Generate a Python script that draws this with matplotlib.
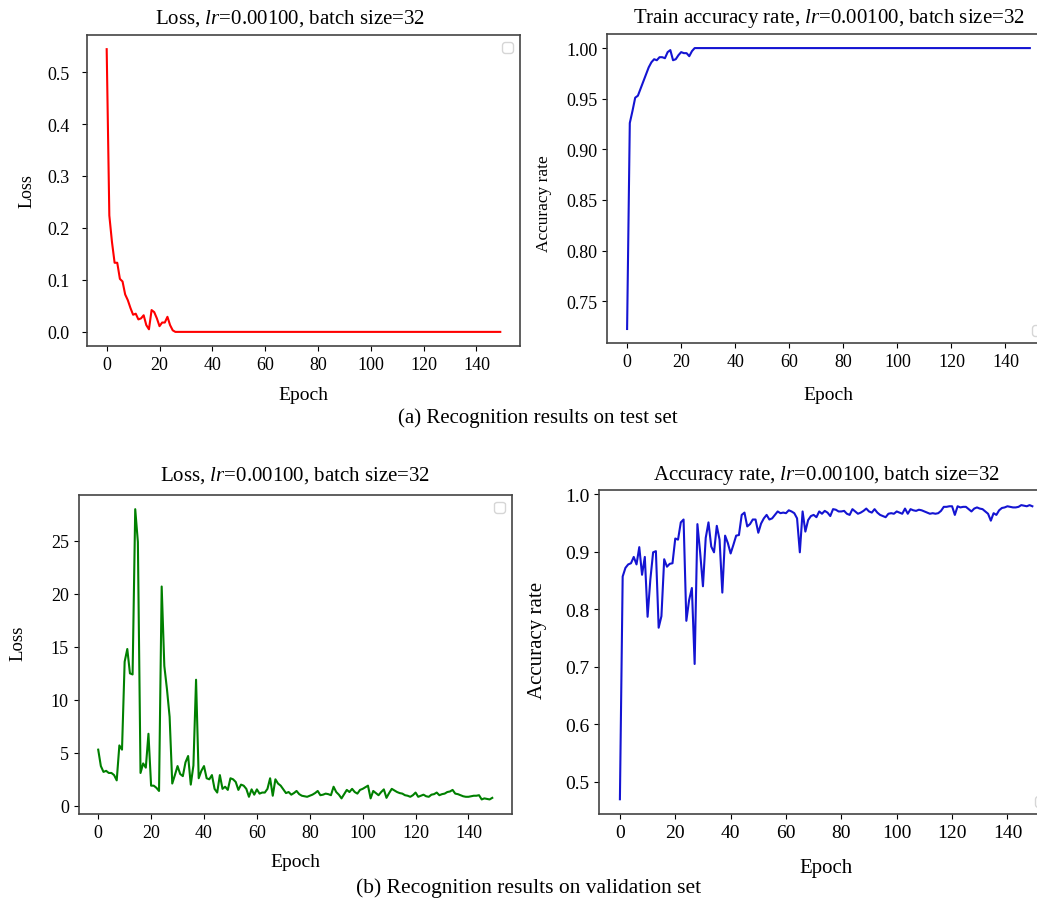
import numpy as np
import matplotlib
matplotlib.use('Agg')
import matplotlib.pyplot as plt

plt.rcParams['font.family'] = ['Liberation Serif', 'DejaVu Serif']
plt.rcParams['mathtext.fontset'] = 'custom'
plt.rcParams['mathtext.rm'] = 'Liberation Serif'
plt.rcParams['mathtext.it'] = 'Liberation Serif:italic'

epochs = np.arange(150)

# (a) test set
test_loss = [0.544, 0.224, 0.173, 0.133, 0.133, 0.102, 0.097, 0.072, 0.061, 0.046,
             0.033, 0.035, 0.024, 0.026, 0.032, 0.013, 0.005, 0.042, 0.038, 0.026,
             0.011, 0.018, 0.018, 0.029, 0.013, 0.003] + [0.0] * 124
test_acc = [0.7226, 0.926, 0.938, 0.951, 0.953, 0.960, 0.967, 0.974, 0.981, 0.986,
            0.989, 0.988, 0.991, 0.991, 0.990, 0.996, 0.998, 0.988, 0.989, 0.993,
            0.996, 0.995, 0.995, 0.992, 0.997] + [1.0] * 125

# (b) validation set
val_loss = [5.3, 3.75, 3.2, 3.3, 3.1, 3.1, 2.9, 2.4, 5.7, 5.3,
            13.6, 14.8, 12.5, 12.4, 28.0, 24.9, 3.1, 4.0, 3.6, 6.8,
            1.9, 1.9, 1.7, 1.4, 20.7, 13.2, 11.0, 8.4, 2.1, 2.9,
            3.75, 3.0, 2.8, 4.1, 4.7, 2.0, 3.8, 11.9, 2.6, 3.3,
            3.75, 2.6, 2.5, 2.9, 1.6, 1.25, 2.9, 1.6, 1.8, 1.5,
            2.6, 2.5, 2.25, 1.5, 2.0, 1.9, 1.6, 0.85, 1.55, 1.05,
            1.55, 1.15, 1.25, 1.25, 1.6, 2.6, 0.95, 2.5, 2.1, 1.9,
            1.55, 1.2, 1.3, 1.05, 1.2, 1.4, 1.1, 0.95, 0.9, 0.85,
            0.95, 1.05, 1.2, 1.4, 1.0, 1.05, 1.15, 1.1, 1.0, 1.8,
            1.3, 1.05, 0.7, 1.1, 1.5, 1.3, 1.6, 1.3, 1.15, 1.5,
            1.6, 1.75, 1.9, 0.7, 1.4, 1.2, 1.0, 1.3, 1.55, 0.75,
            1.2, 1.6, 1.45, 1.3, 1.2, 1.15, 1.0, 0.95, 0.85, 1.0,
            1.25, 0.85, 0.95, 1.05, 0.9, 0.85, 1.05, 1.1, 1.25, 1.0,
            1.1, 1.15, 1.3, 1.35, 1.5, 1.15, 1.1, 1.0, 0.9, 0.85,
            0.85, 0.9, 0.95, 0.95, 1.0, 0.6, 0.7, 0.65, 0.6, 0.75]
val_acc = [0.470, 0.857, 0.872, 0.878, 0.880, 0.891, 0.878, 0.908, 0.860, 0.891,
           0.787, 0.852, 0.899, 0.901, 0.768, 0.788, 0.887, 0.874, 0.879, 0.880,
           0.923, 0.921, 0.951, 0.956, 0.780, 0.816, 0.837, 0.705, 0.948, 0.898,
           0.840, 0.924, 0.951, 0.909, 0.899, 0.945, 0.921, 0.829, 0.928, 0.915,
           0.897, 0.912, 0.928, 0.929, 0.964, 0.968, 0.944, 0.948, 0.956, 0.956,
           0.933, 0.949, 0.958, 0.964, 0.956, 0.958, 0.964, 0.970, 0.967, 0.968,
           0.967, 0.972, 0.970, 0.967, 0.958, 0.899, 0.970, 0.935, 0.955, 0.962,
           0.964, 0.960, 0.970, 0.966, 0.971, 0.968, 0.962, 0.974, 0.973, 0.970,
           0.970, 0.971, 0.966, 0.964, 0.974, 0.970, 0.966, 0.968, 0.971, 0.975,
           0.970, 0.968, 0.974, 0.968, 0.964, 0.962, 0.960, 0.966, 0.967, 0.966,
           0.970, 0.968, 0.966, 0.975, 0.966, 0.974, 0.972, 0.971, 0.973, 0.972,
           0.970, 0.968, 0.966, 0.967, 0.966, 0.967, 0.971, 0.978, 0.978, 0.979,
           0.979, 0.964, 0.979, 0.977, 0.978, 0.978, 0.974, 0.970, 0.975, 0.977,
           0.975, 0.974, 0.970, 0.966, 0.954, 0.967, 0.964, 0.972, 0.976, 0.977,
           0.979, 0.978, 0.977, 0.977, 0.978, 0.981, 0.980, 0.979, 0.981, 0.979]

suffix = r', $lr$=0.00100, batch size=32'

fig = plt.figure(figsize=(10.37, 9.03), dpi=100)

# axes placed by pixel boxes; the right column runs past the figure edge like the reference
ax1 = fig.add_axes([0.0839, 0.6157, 0.4175, 0.3444])
ax2 = fig.add_axes([0.5853, 0.6190, 0.4272, 0.3422])
ax3 = fig.add_axes([0.0757, 0.0975, 0.4180, 0.3536])
ax4 = fig.add_axes([0.5779, 0.0975, 0.4375, 0.3583])

ax1.plot(epochs, test_loss, color='red', lw=1.5)
ax1.set_title('Loss' + suffix, fontsize=15, x=0.47, pad=9)
ax1.set_xlabel('Epoch', fontsize=14, labelpad=9.5)
ax1.set_ylabel('Loss', fontsize=13)
ax1.yaxis.set_label_coords(-0.12, 0.5)
ax1.legend(handles=[], loc='upper right')

ax2.plot(epochs, test_acc, color='#1414d2', lw=1.5)
ax2.set_title('Train accuracy rate' + suffix, fontsize=15, pad=9)
ax2.set_xlabel('Epoch', fontsize=14, labelpad=11.5)
ax2.set_ylabel('Accuracy rate', fontsize=12.5)
ax2.yaxis.set_label_coords(-0.124, 0.456)
ax2.legend(handles=[], loc='lower right')

ax3.plot(epochs, val_loss, color='green', lw=1.5)
ax3.set_title('Loss' + suffix, fontsize=15, pad=11)
ax3.set_xlabel('Epoch', fontsize=14, labelpad=9)
ax3.set_ylabel('Loss', fontsize=13.5)
ax3.yaxis.set_label_coords(-0.121, 0.539)
ax3.legend(handles=[], loc='upper right')

ax4.plot(epochs, val_acc, color='#1414d2', lw=1.5)
ax4.set_title('Accuracy rate' + suffix, fontsize=15, pad=8)
ax4.set_xlabel('Epoch', fontsize=15, labelpad=12.5)
ax4.set_ylabel('Accuracy rate', fontsize=15)
ax4.yaxis.set_label_coords(-0.115, 0.538)
ax4.legend(handles=[], loc='lower right')

for ax in (ax1, ax2, ax3, ax4):
    ax.set_xticks(range(0, 141, 20))
    ax.tick_params(labelsize=13)
    for s in ax.spines.values():
        s.set_color('#444444')
        s.set_linewidth(1.2)
ax1.tick_params(axis='y', pad=9)
ax4.tick_params(labelsize=14)

fig.text(0.519, 0.537, '(a) Recognition results on test set', ha='center', va='center', fontsize=15)
fig.text(0.510, 0.0166, '(b) Recognition results on validation set', ha='center', va='center', fontsize=15.5)

fig.savefig('out.png', dpi=100)
